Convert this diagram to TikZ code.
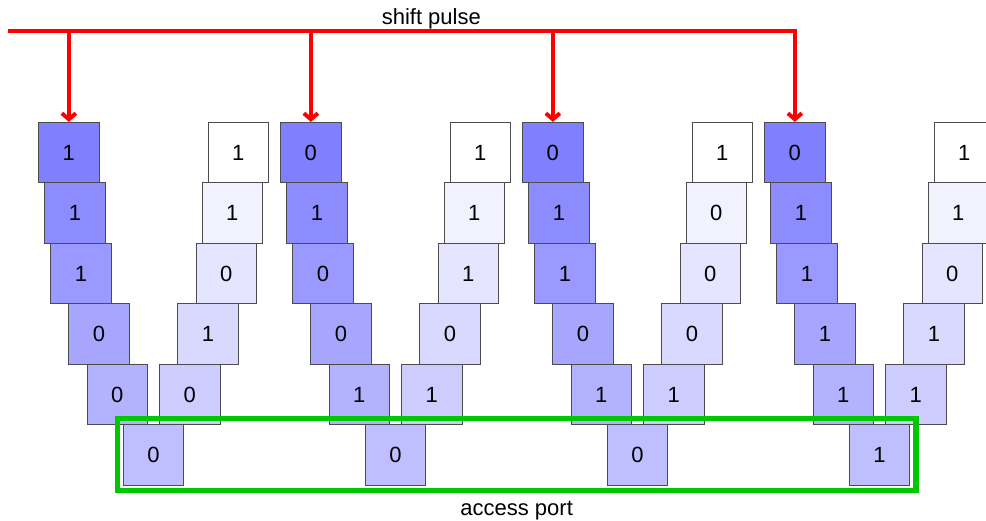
\documentclass[tikz,border=0pt]{standalone}
\usepackage{fontspec}
\setmainfont{Liberation Sans}
\usetikzlibrary{arrows.meta}
\definecolor{portgreen}{RGB}{0,200,0}
\begin{document}
\begin{tikzpicture}[x=1pt,y=-1pt,
  cell/.style={draw=black!70, line width=0.8pt, minimum width=60.5pt,
    minimum height=60.5pt, inner sep=0pt, font=\fontsize{22}{26}\selectfont},
  pulse/.style={draw=red, line width=4pt},
  tip/.style={-{Straight Barb[length=6pt,width=14pt]}},
  caption/.style={font=\fontsize{22}{26}\selectfont, anchor=base, inner sep=0pt}]
\useasboundingbox (0,0) rectangle (986,521);
\clip (0,0) rectangle (986,521);

% four racetracks: left arm (top to bottom), bottom cell, right arm (top to bottom)
\foreach \k/\L/\b/\R in {0/{1,1,1,0,0}/0/{1,1,0,1,0},
                        1/{0,1,0,0,1}/0/{1,1,1,0,1},
                        2/{0,1,1,0,1}/0/{1,0,0,0,1},
                        3/{0,1,1,1,1}/1/{1,1,0,1,1}}{
  \pgfmathsetmacro{\cx}{153.55+242*\k}
  \node[cell, fill=blue!25] (B\k) at (\cx,455.05) {\b};
  \foreach \v [count=\i] in \L {
    \pgfmathsetmacro{\off}{{84.7,78.65,72.6,54.45,36.3}[\i-1]}
    \pgfmathtruncatemacro{\shade}{55-5*\i}
    \node[cell, fill=blue!\shade] (L\k-\i) at (\cx-\off,152.55+60.5*\i-60.5) {\v};
  }
  \foreach \v [count=\i] in \R {
    \pgfmathsetmacro{\off}{{84.7,78.65,72.6,54.45,36.3}[\i-1]}
    \pgfmathtruncatemacro{\shade}{5*\i-5}
    \node[cell, fill=blue!\shade] (R\k-\i) at (\cx+\off,152.55+60.5*\i-60.5) {\v};
  }
}

% shift pulse bus
\coordinate (busstart) at (8.3,31);
\draw[pulse, tip] (busstart) -- (L3-1.north |- busstart) -- (L3-1.north);
\foreach \k in {0,1,2}{
  \coordinate (tap\k) at (L\k-1.north |- busstart);
  \draw[pulse, tip] (tap\k) -- (L\k-1.north);
}
\node[caption] (pulselabel) at (431.3,25) {shift pulse};

% access port
\node[draw=portgreen, line width=5.5pt, minimum width=798.3pt,
  minimum height=72.2pt, inner sep=0pt] (port) at (516.65,454.6) {};
\node[caption] (portlabel) at (516.65,515) {access port};
\end{tikzpicture}
\end{document}
